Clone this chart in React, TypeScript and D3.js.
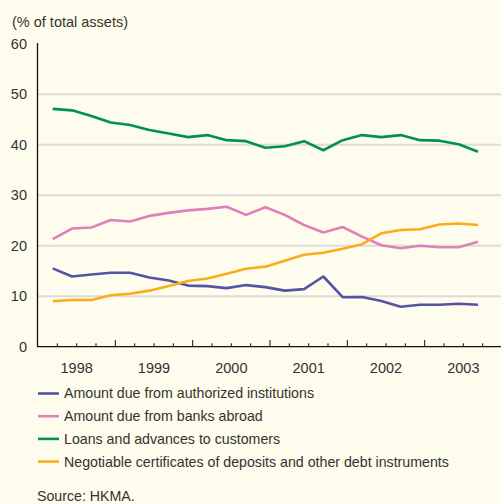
import React from "react";
import * as d3 from "d3";

const years = ["1998", "1999", "2000", "2001", "2002", "2003"];
const yTicks = [0, 10, 20, 30, 40, 50, 60];

const authorized = [15.5, 13.9, 14.3, 14.65, 14.65, 13.7, 13.1, 12.1, 12.0, 11.6, 12.2, 11.8, 11.1, 11.4, 13.9, 9.8, 9.85, 9.05, 7.9, 8.3, 8.3, 8.5, 8.3];
const banksAbroad = [21.3, 23.4, 23.6, 25.1, 24.8, 25.9, 26.5, 27.0, 27.3, 27.7, 26.1, 27.6, 26.1, 24.1, 22.6, 23.7, 21.8, 20.1, 19.5, 20.0, 19.7, 19.7, 20.8];
const loans = [47.1, 46.8, 45.7, 44.4, 43.9, 42.9, 42.2, 41.5, 41.9, 40.9, 40.7, 39.4, 39.7, 40.7, 38.9, 40.9, 41.9, 41.5, 41.9, 40.9, 40.8, 40.1, 38.6];
const ncd = [9.0, 9.25, 9.25, 10.2, 10.5, 11.1, 12.0, 13.0, 13.5, 14.45, 15.45, 15.85, 17.0, 18.2, 18.6, 19.4, 20.3, 22.45, 23.1, 23.25, 24.2, 24.4, 24.1];

const seriesNames = [
  "Amount due from authorized institutions",
  "Amount due from banks abroad",
  "Loans and advances to customers",
  "Negotiable certificates of deposits and other debt instruments",
];
const seriesValues = [authorized, banksAbroad, loans, ncd];
const seriesColors = ["#5553a4", "#e07fbd", "#00924a", "#fbac1a"];

const W = 501;
const H = 504;
const FONT = "'Liberation Sans', Arial, Helvetica, sans-serif";
const TEXT = "#333333";

export default function App() {
  const x = d3.scaleLinear().domain([1998, 2004]).range([38, 502]);
  const y = d3.scaleLinear().domain([0, 60]).range([346.7, 43.7]);
  const qx = (i: number) => x(1998 + (i + 0.76) / 4);

  const line = d3
    .line<number>()
    .x((_, i) => qx(i))
    .y((d) => y(d));

  const quarterTicks = d3.range(1, 24).map((q) => 1998 + q / 4);

  return (
    <svg
      width={W}
      height={H}
      style={{ position: "absolute", left: 0, top: 0, background: "#fefcec" }}
      fontFamily={FONT}
    >
      <rect x={0} y={0} width={W} height={H} fill="#fefcec" />
      <text x={12} y={27} fontSize={14.5} fill={TEXT}>
        (% of total assets)
      </text>
      {yTicks.map((t) => (
        <g key={t}>
          {t > 0 && t < 60 && (
            <line x1={38} x2={W} y1={y(t)} y2={y(t)} stroke="#dedcd6" strokeWidth={2} />
          )}
          <text x={27} y={y(t)} dy="0.35em" textAnchor="end" fontSize={14.5} fill={TEXT}>
            {t}
          </text>
        </g>
      ))}
      {seriesValues.map((vals, k) => (
        <path
          key={k}
          d={line(vals) || ""}
          fill="none"
          stroke={seriesColors[k]}
          strokeWidth={2.6}
          strokeLinejoin="round"
        />
      ))}
      <line x1={37.5} x2={37.5} y1={43} y2={347} stroke="#111" strokeWidth={1.3} />
      <line x1={37} x2={W} y1={346.7} y2={346.7} stroke="#111" strokeWidth={1.3} />
      {quarterTicks.map((t, i) => {
        const major = (i + 1) % 4 === 0;
        return (
          <line
            key={i}
            x1={x(t)}
            x2={x(t)}
            y1={346.7}
            y2={major ? 340 : 343.3}
            stroke="#111"
            strokeWidth={1}
          />
        );
      })}
      {years.map((yr, i) => (
        <text
          key={yr}
          x={x(1998 + i + 0.5)}
          y={367.5}
          dy="0.35em"
          textAnchor="middle"
          fontSize={14.5}
          fill={TEXT}
        >
          {yr}
        </text>
      ))}
      {seriesNames.map((name, k) => {
        const ly = 393.5 + k * 22.7;
        return (
          <g key={name}>
            <line x1={38} x2={59} y1={ly} y2={ly} stroke={seriesColors[k]} strokeWidth={2.6} />
            <text x={64} y={ly} dy="0.35em" fontSize={14.2} fill={TEXT}>
              {name}
            </text>
          </g>
        );
      })}
      <text x={37} y={496} dy="0.35em" fontSize={14.2} fill={TEXT}>
        Source: HKMA.
      </text>
    </svg>
  );
}
